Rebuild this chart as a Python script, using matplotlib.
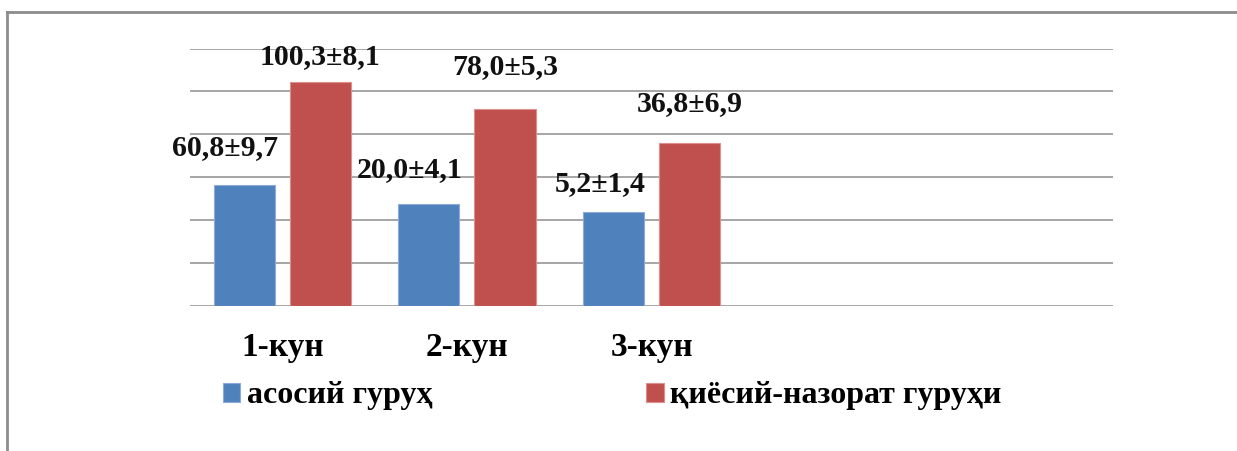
#!/usr/bin/env python3
import matplotlib
matplotlib.use("Agg")
import matplotlib.pyplot as plt
from matplotlib.lines import Line2D

# ======== Data ========
categories = ["1-кун", "2-кун", "3-кун", "", ""]
series_names = ["асосий гуруҳ", "қиёсий-назорат гуруҳи"]
main_heights = [28.1, 23.8, 22.0]
control_heights = [52.1, 46.0, 37.9]
main_labels = ["60,8±9,7", "20,0±4,1", "5,2±1,4"]
control_labels = ["100,3±8,1", "78,0±5,3", "36,8±6,9"]

# ======== Style ========
BLUE = "#4F81BD"
RED = "#C0504D"
GRID = "#A6A6A6"
FONT = ["Liberation Serif", "DejaVu Serif"]
plt.rcParams["font.family"] = FONT

W, H = 1237, 451
DPI = 100
BAR_W = 0.332
OFFSET = 0.2065

# label offsets in pixels from the top centre of each bar (dx, dy)
main_label_off = [(-19, 38), (-19, 34), (-13, 28)]
control_label_off = [(0, 26), (0, 42), (0, 40)]


def px_to_pt(v):
    return v * 72.0 / DPI


def main():
    fig = plt.figure(figsize=(W / DPI, H / DPI), dpi=DPI)
    left, right = 190 / W, 1113 / W
    top, bottom = 1 - 48.5 / H, 1 - 306 / H
    ax = fig.add_axes([left, bottom, right - left, top - bottom])

    n = len(main_heights)
    xs = list(range(n))
    bars_main = ax.bar([x - OFFSET for x in xs], main_heights, width=BAR_W,
                       color=BLUE, edgecolor="#8FAAD6", linewidth=0.8, zorder=3,
                       label=series_names[0])
    bars_ctrl = ax.bar([x + OFFSET for x in xs], control_heights, width=BAR_W,
                       color=RED, edgecolor="#DC8F8D", linewidth=0.8, zorder=3,
                       label=series_names[1])

    for bars, labels, offs in ((bars_main, main_labels, main_label_off),
                               (bars_ctrl, control_labels, control_label_off)):
        for b, txt, (dx, dy) in zip(bars, labels, offs):
            ax.annotate(txt, (b.get_x() + b.get_width() / 2, b.get_height()),
                        xytext=(px_to_pt(dx), px_to_pt(dy)),
                        textcoords="offset points", ha="center", va="center",
                        fontsize=21.5, fontweight="bold", color="#111111",
                        family=FONT, zorder=4)

    ax.set_xlim(-0.5, len(categories) - 0.5)
    ax.set_ylim(0, 60)
    ax.set_yticks(range(0, 61, 10))
    ax.yaxis.grid(True, color=GRID, linewidth=1.4, zorder=0)
    ax.set_axisbelow(True)
    ax.set_yticklabels([])
    ax.set_xticks(range(len(categories)))
    ax.set_xticklabels(categories, fontsize=24, fontweight="bold", family=FONT)
    ax.tick_params(axis="both", length=0)
    ax.tick_params(axis="x", pad=18.5)
    for s in ax.spines.values():
        s.set_visible(False)

    fig.legend(handles=[bars_main, bars_ctrl], labels=series_names,
               loc="center", bbox_to_anchor=(612 / W, 1 - 396 / H),
               ncol=2, frameon=False,
               prop={"family": FONT, "size": 23, "weight": "bold"},
               handlelength=0.55, handleheight=0.55, handletextpad=0.2,
               columnspacing=6.7)

    # outer frame (top and left edges only are visible)
    fig.add_artist(Line2D([7 / W, 1.0], [1 - 11.5 / H, 1 - 11.5 / H],
                          transform=fig.transFigure, color="#8C8C8C", linewidth=2))
    fig.add_artist(Line2D([7.5 / W, 7.5 / W], [0, 1 - 11.5 / H],
                          transform=fig.transFigure, color="#8C8C8C", linewidth=2))

    fig.savefig("out.png", dpi=DPI)


if __name__ == "__main__":
    main()
